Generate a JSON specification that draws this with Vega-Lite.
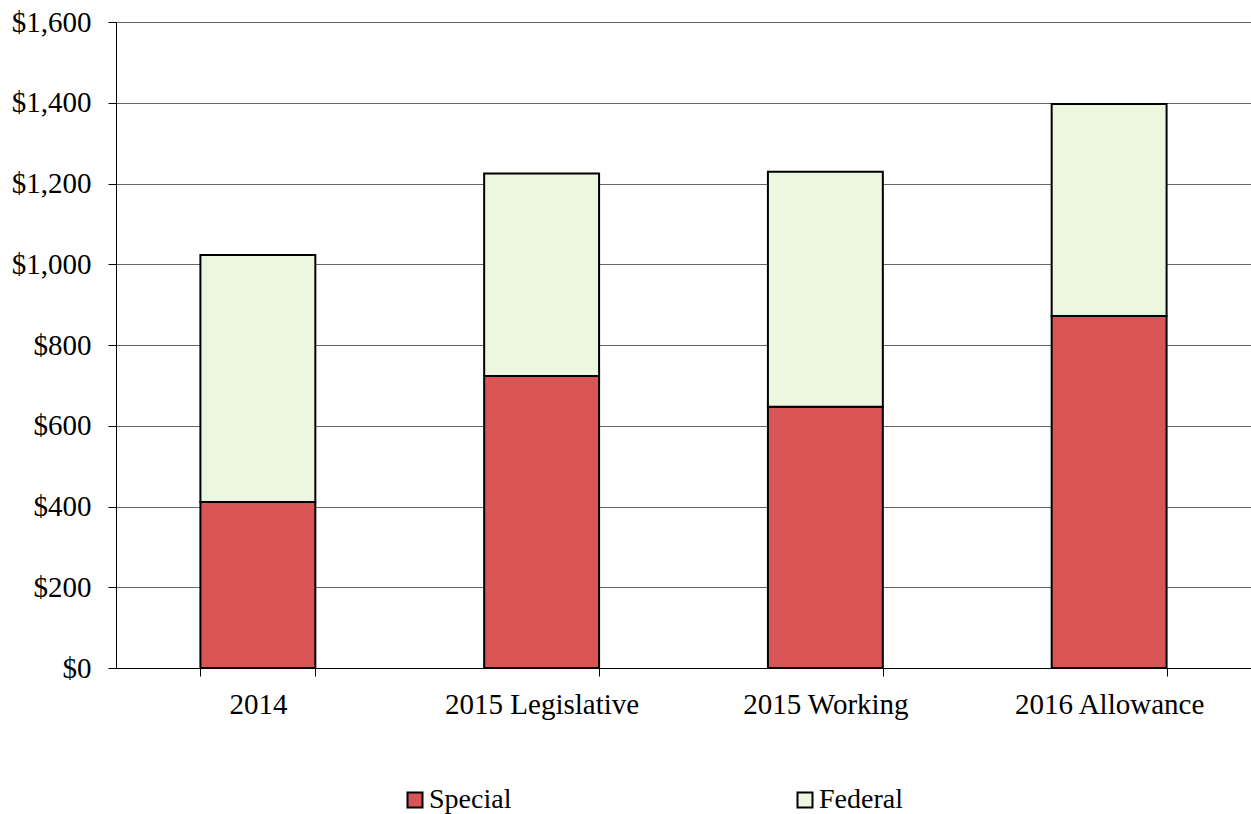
{
  "$schema": "https://vega.github.io/schema/vega-lite/v6.json",
  "autosize": {"type": "none"},
  "padding": {"left": 116, "top": 22, "right": 0, "bottom": 146},
  "width": 1135,
  "height": 646,
  "background": "white",
  "config": {
    "font": "Liberation Serif",
    "view": {"stroke": null}
  },
  "data": {
    "values": [
      {"year": "2014", "source": "Special", "amount": 411},
      {"year": "2014", "source": "Federal", "amount": 612},
      {"year": "2015 Legislative", "source": "Special", "amount": 723},
      {"year": "2015 Legislative", "source": "Federal", "amount": 502},
      {"year": "2015 Working", "source": "Special", "amount": 647},
      {"year": "2015 Working", "source": "Federal", "amount": 582},
      {"year": "2016 Allowance", "source": "Special", "amount": 872},
      {"year": "2016 Allowance", "source": "Federal", "amount": 525}
    ]
  },
  "mark": {"type": "bar", "stroke": "black", "strokeWidth": 2},
  "encoding": {
    "x": {
      "field": "year",
      "type": "nominal",
      "sort": null,
      "scale": {"paddingInner": 0.595, "paddingOuter": 0.2975},
      "axis": {
        "title": null,
        "labelAngle": 0,
        "labelFont": "Liberation Serif",
        "labelFontSize": 29,
        "labelLimit": 0,
        "labelColor": "black",
        "labelPadding": 14,
        "tickBand": "extent",
        "tickSize": 8,
        "tickColor": "black",
        "domainColor": "black",
        "domainWidth": 1,
        "grid": false
      }
    },
    "y": {
      "field": "amount",
      "type": "quantitative",
      "stack": "zero",
      "scale": {"domain": [0, 1600], "nice": false},
      "axis": {
        "title": null,
        "values": [0, 200, 400, 600, 800, 1000, 1200, 1400, 1600],
        "format": "$,.0f",
        "labelFont": "Liberation Serif",
        "labelFontSize": 29,
        "labelColor": "black",
        "labelPadding": 17,
        "tickSize": 8,
        "tickColor": "black",
        "domainColor": "black",
        "grid": true,
        "gridColor": "#666666",
        "gridWidth": 1
      }
    },
    "color": {
      "field": "source",
      "type": "nominal",
      "scale": {"domain": ["Special", "Federal"], "range": ["#D95555", "#EDF7E0"]},
      "legend": {
        "title": null,
        "orient": "none",
        "legendX": 285,
        "legendY": 764,
        "direction": "horizontal",
        "columns": 2,
        "columnPadding": 279,
        "symbolType": "square",
        "symbolSize": 225,
        "symbolStrokeColor": "black",
        "symbolStrokeWidth": 2,
        "labelFont": "Liberation Serif",
        "labelFontSize": 28,
        "labelLimit": 0,
        "labelColor": "black",
        "labelOffset": 0
      }
    },
    "order": {"field": "source", "sort": "descending"}
  }
}
